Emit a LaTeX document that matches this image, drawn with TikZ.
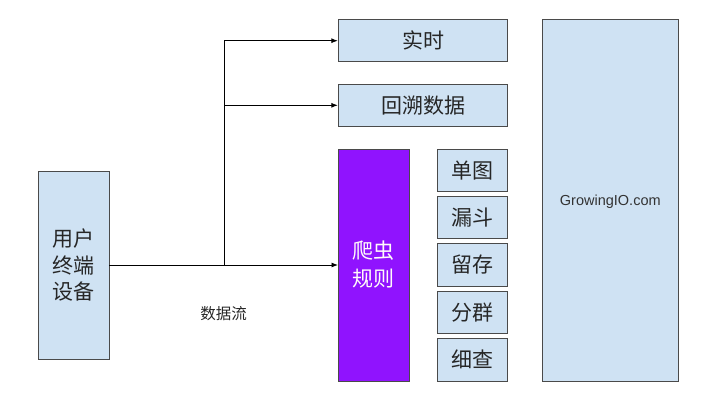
\documentclass[tikz,border=0pt]{standalone}
\usepackage{fontspec}
\setmainfont{Liberation Sans}
\newfontfamily\cjk{Noto Sans CJK SC}
\usetikzlibrary{arrows.meta}
\definecolor{boxblue}{HTML}{CFE2F3}
\definecolor{boxline}{HTML}{4A4A4A}
\definecolor{rulepurple}{HTML}{9013FE}
\begin{document}
\begin{tikzpicture}[x=1pt,y=-1pt,
  bluebox/.style={draw=boxline,fill=boxblue,line width=0.9pt,inner sep=0pt},
  link/.style={draw=black,line width=0.9pt},
  arr/.style={link,-{Latex[length=6.5pt,width=5pt]}}]
\useasboundingbox (0,0) rectangle (709,409);
\fill[white] (0,0) rectangle (709,409);
% left device box
\node[bluebox,minimum width=70.5pt,minimum height=188pt] (dev) at (73.7,265) {};
\node[align=center,font=\cjk\fontsize{21}{26.5}\selectfont,text=black!85] (devt) at (dev.center) {用户\\终端\\设备};
% top boxes
\node[bluebox,minimum width=169.5pt,minimum height=42pt] (rt) at (423,40.2) {};
\node[font=\cjk\fontsize{21}{24}\selectfont,text=black!85] (rtt) at (rt.center) {实时};
\node[bluebox,minimum width=169.5pt,minimum height=42.5pt] (bk) at (423,105.3) {};
\node[font=\cjk\fontsize{21}{24}\selectfont,text=black!85] (bkt) at (bk.center) {回溯数据};
% purple rule box
\node[draw=boxline,fill=rulepurple,line width=0.9pt,minimum width=70.5pt,minimum height=232pt,inner sep=0pt] (rule) at (373.7,265) {};
\node[align=center,font=\cjk\fontsize{21}{28}\selectfont,text=white!92!pink] (rulet) at (rule.center) {爬虫\\规则};
% small boxes
\foreach \n/\t/\yy/\hh in {a/单图/170.3/42.5, b/漏斗/217.5/41.5, c/留存/264.7/42.5, d/分群/312.5/41.5, e/细查/359.7/42.5}{
  \node[bluebox,minimum width=70.5pt,minimum height=\hh pt] (s\n) at (472.3,\yy) {};
  \node[font=\cjk\fontsize{21}{24}\selectfont,text=black!85] (s\n t) at (s\n.center) {\t};
}
% GrowingIO box
\node[bluebox,minimum width=136pt,minimum height=361.5pt] (gio) at (610.3,200.2) {};
\node[font=\fontsize{14.5}{16}\selectfont,text=black!80] (giot) at (610.3,201.5) {GrowingIO.com};
% connectors
\coordinate (j) at (224.3,265);
\coordinate (jt) at (224.3,40.7);
\coordinate (jb) at (224.3,105.3);
\draw[link] (dev.east) -- (j);
\draw[arr] (j) -- (rule.west);
\draw[link] (j) -- (jt);
\draw[arr] (jt) -- (rt.west |- jt);
\draw[arr] (jb) -- (bk.west);
\node[font=\cjk\fontsize{15.5}{17}\selectfont,text=black!85] (flow) at (223.7,314) {数据流};
\end{tikzpicture}
\end{document}
